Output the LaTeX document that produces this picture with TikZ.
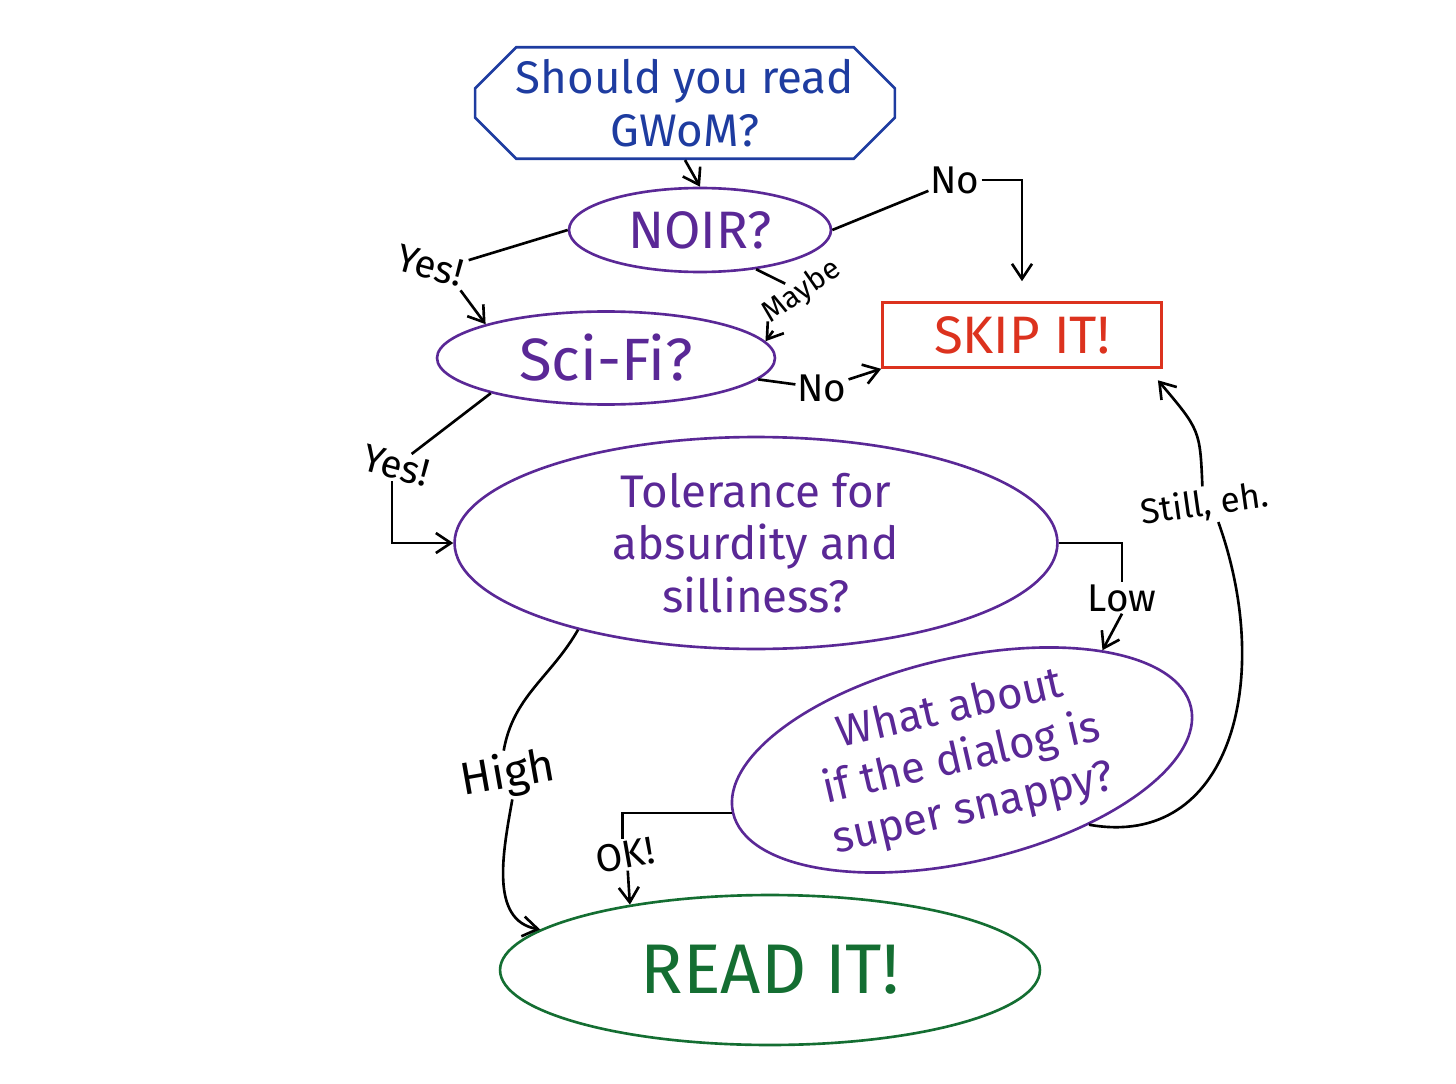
\documentclass[tikz,border=0pt]{standalone}
\usepackage{fontspec}
\setmainfont{Fira Sans}
\usepackage{tikz}
\usetikzlibrary{shapes.geometric,shapes.misc,arrows.meta}
\definecolor{penblue}{RGB}{30,60,160}
\definecolor{penpurple}{RGB}{90,40,150}
\definecolor{penred}{RGB}{220,50,30}
\definecolor{pengreen}{RGB}{20,110,50}
\tikzset{question/.style={draw=penpurple,text=penpurple,ellipse,line width=1.5pt,
		inner sep=0pt,align=center},
	startbox/.style={draw=penblue,text=penblue,chamfered rectangle,
		chamfered rectangle xsep=0.7cm,line width=1.5pt,align=center,
		minimum width=8cm,minimum height=2.1cm,font=\fontsize{26}{30}\selectfont},
	answer/.style={font=\fontsize{22}{26}\selectfont,inner sep=1pt},
	flow/.style={line width=1.5pt,-{Straight Barb[length=3mm,width=4mm]}},
	plain/.style={line width=1.5pt}}

\begin{document}
\begin{tikzpicture}[x=0.02cm,y=-0.02cm]
\useasboundingbox (0,0) rectangle (1456,1084);
	% the questions
	\node[startbox] (gwom) at (685,103) {Should you read\\GWoM?};
	\node[question,minimum width=5.24cm,minimum height=1.68cm,
		font=\fontsize{30}{34}\selectfont] (noir) at (700,230) {NOIR?};
	\node[question,minimum width=6.76cm,minimum height=1.86cm,
		font=\fontsize{34}{38}\selectfont] (scifi) at (606,358) {Sci-Fi?};
	\node[question,minimum width=12.06cm,minimum height=4.24cm,
		font=\fontsize{26}{30}\selectfont] (tol) at (756,543)
		{Tolerance for\\absurdity and\\silliness?};
	\node[question,minimum width=9.4cm,minimum height=3.6cm,rotate=13,
		font=\fontsize{25}{29}\selectfont] (dialog) at (962,760)
		{What about\\if the dialog is\\super snappy?};
	% the outcomes
	\node[draw=penred,text=penred,line width=1.5pt,minimum width=5.58cm,
		minimum height=1.3cm,font=\fontsize{30}{34}\selectfont] (skip) at (1022,335) {SKIP IT!};
	\node[draw=pengreen,text=pengreen,ellipse,line width=1.5pt,inner sep=0pt,
		minimum width=10.8cm,minimum height=3cm,
		font=\fontsize{40}{44}\selectfont] (read) at (770,970) {READ IT!};
	% answers
	\node[answer] (no1) at (955,180) {No};
	\node[answer,rotate=-15] (yes1) at (430,266) {Yes!};
	\node[answer,rotate=35,font=\fontsize{17}{20}\selectfont] (maybe) at (802,292) {Maybe};
	\node[answer] (no2) at (822,388) {No};
	\node[answer,rotate=-15] (yes2) at (396,466) {Yes!};
	\node[answer] (low) at (1122,598) {Low};
	\node[answer,rotate=10,font=\fontsize{26}{30}\selectfont] (high) at (508,775) {High};
	\node[answer,rotate=10] (ok) at (625,855) {OK!};
	\node[answer,rotate=8,font=\fontsize{20}{24}\selectfont] (still) at (1205,505) {Still, eh.};
	% connectors
	\draw[flow] (gwom.south) -- (noir.north);
	\draw[plain] (noir.east) -- (no1);
	\draw[flow,shorten >=0.4cm] (no1) -| (skip.north);
	\draw[plain] (noir.west) -- (yes1.north east);
	\draw[flow] (yes1.south east) -- (scifi.north west);
	\draw[plain] (noir.-35) -- (maybe);
	\draw[flow] (maybe) -- (scifi.6);
	\draw[plain] (scifi.-8) -- (no2);
	\draw[flow] (no2) -- (skip.south west);
	\draw[plain] (scifi.197) -- (yes2);
	\draw[flow] (yes2.south) |- (tol.west);
	\draw[plain] (tol.east) -| (low.north);
	\draw[flow] (low.south) -- (dialog.25);
	\draw[plain] (tol.206) to[out=-120,in=80] (high.north);
	\draw[flow] (high.south) to[out=-100,in=170] (read.170);
	\draw[plain] (dialog.west) -| (ok.north);
	\draw[flow] (ok.south) -- (read.155);
	\draw[plain] (dialog.-40) .. controls (1230,850) and (1275,680) .. (still.-60);
	\draw[flow,shorten >=0.3cm] (still.north) .. controls (1200,430) .. (skip.-15);
\end{tikzpicture}
\end{document}
